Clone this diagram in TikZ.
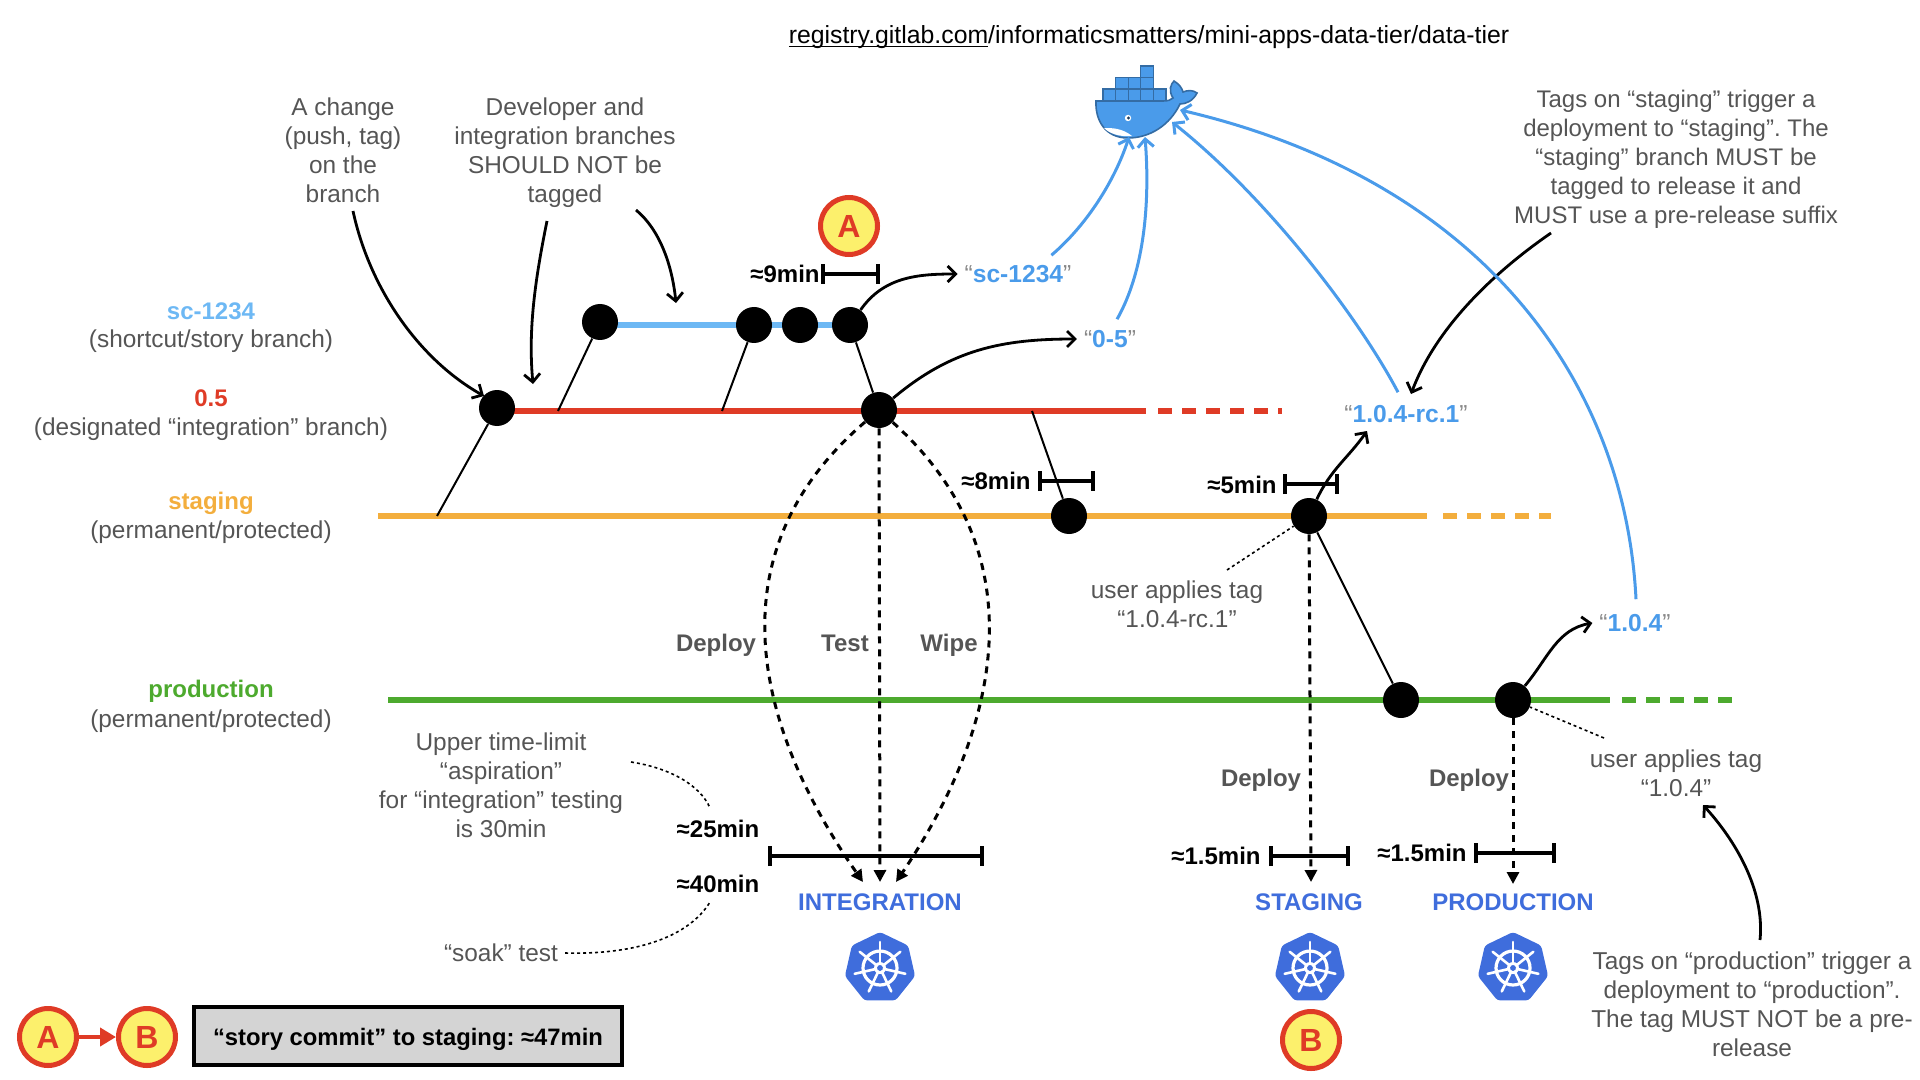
\documentclass[tikz,border=0pt]{standalone}
\usepackage{fontspec}
\setmainfont{Liberation Sans}
\usepackage{tikz}
\usetikzlibrary{arrows.meta,positioning}

\definecolor{storyblue}{HTML}{6DB8F4}
\definecolor{intred}{HTML}{DF3B26}
\definecolor{stagingorange}{HTML}{F3AE3D}
\definecolor{prodgreen}{HTML}{4DAA2E}
\definecolor{tagblue}{HTML}{4A9BEA}
\definecolor{kubeblue}{HTML}{3F6DDC}
\definecolor{notegray}{HTML}{555555}
\definecolor{quotegray}{HTML}{888888}
\definecolor{markyellow}{HTML}{FCF06C}
\definecolor{boxgray}{HTML}{D4D4D4}

\tikzset{
	branch/.style={line width=3pt},
	branchend/.style={line width=3pt,dash pattern=on 7pt off 5pt},
	commit/.style={circle,fill=black,inner sep=0pt,minimum size=18pt},
	thinlink/.style={line width=1pt},
	note/.style={align=center,text=notegray,font=\fontsize{12.2}{14.5}\selectfont},
	titlelabel/.style={align=center,font=\fontsize{12}{14.5}\selectfont\bfseries},
	timelabel/.style={font=\fontsize{12}{14.5}\selectfont\bfseries},
	steplabel/.style={text=notegray,font=\fontsize{12}{14.5}\selectfont\bfseries},
	taglabel/.style={text=quotegray,font=\fontsize{12.3}{14.5}\selectfont},
	envlabel/.style={text=kubeblue,font=\fontsize{12}{14.5}\selectfont\bfseries},
	callout/.style={line width=1.4pt,-{Straight Barb[length=4pt,width=8pt]}},
	tagarrow/.style={line width=1.5pt,tagblue,-{Straight Barb[length=4pt,width=8pt]}},
	deploy/.style={line width=1.5pt,dash pattern=on 3.5pt off 3pt,-{Triangle[length=6pt,width=6pt]}},
	dottednote/.style={line width=.8pt,dash pattern=on 1.5pt off 1.5pt},
	bracket/.style={line width=2pt,{Bar[width=10pt]}-{Bar[width=10pt]}},
	markcircle/.style={circle,draw=intred,fill=markyellow,line width=2.5pt,minimum size=28.5pt,inner sep=0pt,text=intred,font=\fontsize{16}{16}\selectfont\bfseries},
	kube/.pic={
		\fill[kubeblue,rounded corners=1.5pt] (-90:36) -- (-38.6:36) -- (12.9:36) -- (64.3:36) -- (115.7:36) -- (167.1:36) -- (218.6:36) -- cycle;
		\draw[white,line width=1.6pt] (0,0) circle (17);
		\fill[white] (0,0) circle (6);
		\fill[kubeblue] (0,0) circle (3);
		\foreach \a in {-90,-38.6,12.9,64.3,115.7,167.1,218.6}
			\draw[white,line width=1.3pt,line cap=round] (\a:4) -- (\a:26);
	}
}

\begin{document}
\frenchspacing
\begin{tikzpicture}[x=0.5pt,y=-0.5pt]
	\useasboundingbox (0,0) rectangle (1920,1080);

	% branches
	\coordinate (storyA) at (600,325);
	\coordinate (storyB) at (850,325);
	\coordinate (intA) at (497,411);
	\coordinate (intB) at (1146,411);
	\coordinate (intC) at (1282,411);
	\coordinate (stagA) at (378,516);
	\coordinate (stagB) at (1427,516);
	\coordinate (stagC) at (1551,516);
	\coordinate (prodA) at (388,700);
	\coordinate (prodB) at (1610,700);
	\coordinate (prodC) at (1733,700);
	\draw[branch,storyblue] (storyA) -- (storyB);
	\draw[branch,intred] (intA) -- (intB);
	\draw[branchend,intred] (intB) ++(12,0) -- (intC);
	\draw[branch,stagingorange] (stagA) -- (stagB);
	\draw[branchend,stagingorange] (stagB) ++(16,0) -- (stagC);
	\draw[branch,prodgreen] (prodA) -- (prodB);
	\draw[branchend,prodgreen] (prodB) ++(12,0) -- (prodC);

	% commits
	\node[commit] (intfirst) at (497,408) {};
	\node[commit] (story1) at (600,322) {};
	\node[commit] (story2) at (754,325) {};
	\node[commit] (story3) at (800,325) {};
	\node[commit] (story4) at (850,325) {};
	\node[commit] (intmerge) at (879,410) {};
	\node[commit] (stag1) at (1069,516) {};
	\node[commit] (stag2) at (1309,516) {};
	\node[commit] (prod1) at (1401,700) {};
	\node[commit] (prod2) at (1513,700) {};

	% branch points
	\coordinate (offstag) at (437,516);
	\coordinate (offint1) at (558,411);
	\coordinate (offint2) at (722,411);
	\coordinate (offint3) at (1032,411);
	\draw[thinlink] (offstag) -- (intfirst);
	\draw[thinlink] (offint1) -- (story1);
	\draw[thinlink] (offint2) -- (story2);
	\draw[thinlink] (story4) -- (intmerge);
	\draw[thinlink] (offint3) -- (stag1);
	\draw[thinlink] (stag2) -- (prod1);

	% branch names
	\node[titlelabel,text=storyblue] (namestory) at (211,311) {sc-1234};
	\node[note] (descstory) at (211,341) {(shortcut/story branch)};
	\node[titlelabel,text=intred] (nameint) at (211,398) {0.5};
	\node[note] (descint) at (211,429) {(designated “integration” branch)};
	\node[titlelabel,text=stagingorange] (namestag) at (211,503) {staging};
	\node[note] (descstag) at (211,532) {(permanent/protected)};
	\node[titlelabel,text=prodgreen] (nameprod) at (211,691) {production};
	\node[note] (descprod) at (211,721) {(permanent/protected)};

	% notes
	\node[note,font=\fontsize{12.4}{14.5}\selectfont] (regurl) at (1149,37) {\textcolor{black}{\underline{\smash{registry.gitlab.com}}/informaticsmatters/mini-apps-data-tier/data-tier}};
	\node[note] (notechange) at (343,150) {A change\\(push, tag)\\on the\\branch};
	\node[note] (notedev) at (565,153) {Developer and\\integration branches\\SHOULD NOT be\\tagged};
	\node[note,font=\fontsize{12}{14.5}\selectfont] (notestag) at (1676,159) {Tags on “staging” trigger a\\deployment to “staging”. The\\“staging” branch MUST be\\tagged to release it and\\MUST use a pre-release suffix};
	\node[note] (noterc) at (1177,604) {user applies tag\\“1.0.4-rc.1”};
	\node[note] (noterel) at (1676,773) {user applies tag\\“1.0.4”};
	\node[note] (noteaspire) at (501,785) {Upper time-limit\\“aspiration”\\for “integration” testing\\is 30min};
	\node[note] (notesoak) at (501,953) {“soak” test};
	\node[note] (noteprod) at (1752,1004) {Tags on “production” trigger a\\deployment to “production”.\\The tag MUST NOT be a pre-\\release};

	% callouts
	\coordinate (aimfirst) at (484,396);
	\coordinate (aimint) at (533,384);
	\coordinate (aimstory) at (676,303);
	\coordinate (aimrc) at (1411,394);
	\coordinate (aimrel) at (1703,805);
	\draw[callout] (353,211) .. controls (370,290) and (420,360) .. (aimfirst);
	\draw[callout] (547,221) .. controls (535,280) and (528,330) .. (aimint);
	\draw[callout] (636,210) .. controls (660,230) and (672,265) .. (aimstory);
	\draw[callout] (1551,233) .. controls (1490,275) and (1435,330) .. (aimrc);
	\draw[callout] (1760,940) .. controls (1765,890) and (1735,840) .. (aimrel);

	% tags
	\node[taglabel] (tagstory) at (1018,274) {“\textcolor{tagblue}{\bfseries sc-1234}”};
	\node[taglabel] (tagint) at (1110,339) {“\textcolor{tagblue}{\bfseries 0-5}”};
	\node[taglabel] (tagrc) at (1406,414) {“\textcolor{tagblue}{\bfseries 1.0.4-rc.1}”};
	\node[taglabel] (tagrel) at (1635,623) {“\textcolor{tagblue}{\bfseries 1.0.4}”};
	\coordinate (aimtagrc) at (1367,431);
	\draw[callout] (story4) to[out=55,in=180] (tagstory.west);
	\draw[callout] (intmerge) to[out=40,in=180] (tagint.west);
	\draw[callout] (stag2) to[out=65,in=-125] (aimtagrc);
	\draw[callout] (prod2) to[out=50,in=190] (tagrel.west);

	% docker whale
	\foreach \x/\y in {1103/89,1115.6/89,1128.2/89,1140.8/89,1153.4/89,1115.6/77.5,1128.2/77.5,1140.8/77.5,1140.8/66}
		\draw[draw=tagblue!70!black,fill=tagblue,line width=.6pt] (\x,\y) rectangle ++(12.6,11.5);
	\draw[draw=tagblue!70!black,fill=tagblue,line width=.8pt] (1096,101) -- (1163,101)
		.. controls (1168,101) and (1171,100) .. (1173,98)
		.. controls (1168,90) and (1171,84) .. (1174,81)
		.. controls (1179,84) and (1182,88) .. (1183,92)
		.. controls (1188,90) and (1193,90) .. (1197,93)
		.. controls (1193,101) and (1186,104) .. (1180,104)
		.. controls (1170,125) and (1150,138) .. (1128,138)
		.. controls (1105,138) and (1095,120) .. (1096,101) -- cycle;
	\fill[white] (1104,128) .. controls (1112,128) and (1122,128) .. (1132,136) .. controls (1120,137) and (1110,134) .. (1104,128) -- cycle;
	\fill[white] (1128,118) circle (3.2);
	\fill[tagblue!40!black] (1128.5,118) circle (1.7);
	\coordinate (whalestory) at (1129,137);
	\coordinate (whaleint) at (1145,137);
	\coordinate (whalerc) at (1172,122);
	\coordinate (whalerel) at (1180,110);
	\draw[tagarrow] (tagstory.north east) ++(-27,-3) .. controls (1087,225) and (1115,180) .. (whalestory);
	\draw[tagarrow] (tagint.north east) ++(-26,-4) .. controls (1145,270) and (1150,200) .. (whaleint);
	\draw[tagarrow] (tagrc.north) ++(-8,-6) .. controls (1360,320) and (1270,200) .. (whalerc);
	\draw[tagarrow] (tagrel.north) ++(1,-8) .. controls (1625,380) and (1480,180) .. (whalerel);

	% deployments
	\draw[deploy] (intmerge) .. controls (704,560) and (764,740) .. (863,882);
	\draw[deploy] (intmerge) -- (880,882);
	\draw[deploy] (intmerge) .. controls (1046,560) and (992,740) .. (896,882);
	\draw[deploy] (stag2) -- (1311,882);
	\draw[deploy] (prod2) -- (1513,884);
	\node[steplabel] (stepdeploy) at (716,645) {Deploy};
	\node[steplabel] (steptest) at (845,643) {Test};
	\node[steplabel] (stepwipe) at (949,645) {Wipe};
	\node[steplabel] (stepstag) at (1261,780) {Deploy};
	\node[steplabel] (stepprod) at (1469,780) {Deploy};

	% timings
	\foreach \xa/\xb/\y in {821/880/274,1038/1095/481,1283/1339/484,768/984/856,1269/1350/856,1474/1556/853}
		\draw[bracket] (\xa,\y) -- (\xb,\y);
	\node[timelabel] (time9) at (785,274) {≈9min};
	\node[timelabel] (time8) at (996,481) {≈8min};
	\node[timelabel] (time5) at (1242,485) {≈5min};
	\node[timelabel] (time25) at (718,829) {≈25min};
	\node[timelabel] (time40) at (718,884) {≈40min};
	\node[timelabel] (timestag) at (1216,856) {≈1.5min};
	\node[timelabel] (timeprod) at (1422,853) {≈1.5min};

	% dotted leaders
	\coordinate (leadrc) at (1227,570);
	\coordinate (leadrel) at (1604,738);
	\coordinate (lead25) at (710,808);
	\coordinate (lead40) at (710,902);
	\draw[dottednote] (leadrc) -- (stag2);
	\draw[dottednote] (leadrel) -- (prod2);
	\draw[dottednote] (631,762) .. controls (670,768) and (700,785) .. (lead25);
	\draw[dottednote] (notesoak.east) .. controls (640,955) and (690,935) .. (lead40);

	% environments
	\node[envlabel] (envint) at (880,902) {INTEGRATION};
	\node[envlabel] (envstag) at (1309,902) {STAGING};
	\node[envlabel] (envprod) at (1513,902) {PRODUCTION};
	\pic at (880,968) {kube};
	\pic at (1310,968) {kube};
	\pic at (1513,968) {kube};

	% markers
	\node[markcircle] (markA) at (849,226) {A};
	\node[markcircle] (markB) at (1311,1040) {B};
	\node[markcircle] (legendA) at (48,1037) {A};
	\node[markcircle] (legendB) at (147,1037) {B};
	\draw[line width=2pt,intred,-{Triangle[length=8pt,width=9pt]}] (legendA) -- (legendB);
	\node[draw=black,fill=boxgray,line width=2pt,minimum width=214pt,minimum height=29pt,inner sep=0pt,text height=11.5pt,text depth=2.5pt,font=\fontsize{11.9}{14.5}\selectfont\bfseries] (totalbox) at (408,1036) {“story commit” to staging: ≈47min};
\end{tikzpicture}
\end{document}
